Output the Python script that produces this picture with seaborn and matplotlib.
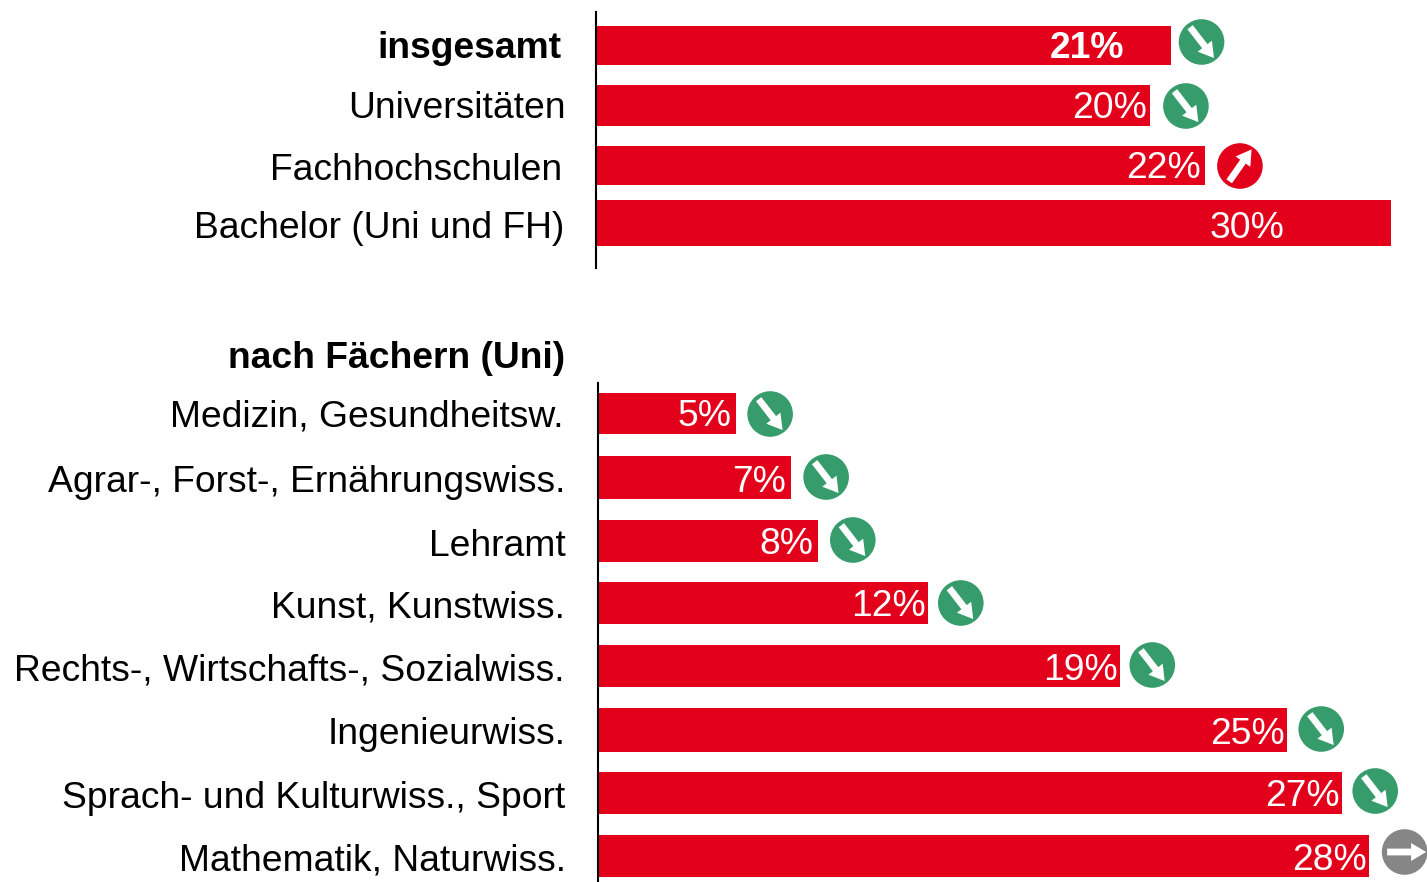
import numpy as np
import pandas as pd
import matplotlib
matplotlib.use("Agg")
import matplotlib.pyplot as plt
from matplotlib.patches import Circle, Polygon
from matplotlib.transforms import ScaledTranslation
import seaborn as sns

# ---- data ----
overall_cats = ["insgesamt", "Universitäten", "Fachhochschulen", "Bachelor (Uni und FH)"]
overall_vals = [20.9, 20.15, 22.15, 28.9]
overall_text = ["21%", "20%", "22%", "30%"]
overall_trend = ["down", "down", "up", None]

subject_header = "nach Fächern (Uni)"
subject_cats = ["Medizin, Gesundheitsw.", "Agrar-, Forst-, Ernährungswiss.", "Lehramt",
                "Kunst, Kunstwiss.", "Rechts-, Wirtschafts-, Sozialwiss.", "Ingenieurwiss.",
                "Sprach- und Kulturwiss., Sport", "Mathematik, Naturwiss."]
subject_vals = [5.03, 7.03, 8.0, 12.0, 19.0, 25.07, 27.07, 28.03]
subject_text = ["5%", "7%", "8%", "12%", "19%", "25%", "27%", "28%"]
subject_trend = ["down"] * 7 + ["flat"]

# ---- layout (figure pixels) ----
W, H = 1427, 882
PX_PER_UNIT = 27.5
RED, GREEN, GREY = "#E2001A", "#369C6B", "#868686"
TREND_COL = {"down": GREEN, "up": RED, "flat": GREY}
TREND_DIR = {"down": (24, 31), "up": (21, -30), "flat": (39, 0)}

top_layout = dict(
    x0=595.8, y0=12, y1=268,
    bars=[(26, 65), (85, 126), (146, 185), (200, 246)],
    lab_y=[44, 105, 166, 224],
    lab_right=[561, 565.5, 562.5, 564.5],
    val_right=[1124.5, 1146.5, 1200.5, 1284.5],
    val_y=[48, 109, 168, 229],
    icon_dx=[31, 36, 35, 0],
    icon_y=[42, 106, 166, 0],
)
bot_layout = dict(
    x0=597.8, y0=383, y1=882,
    bars=[(393, 434), (456, 499), (520, 562), (582, 624),
          (645, 687), (708, 752), (772, 814), (835, 877)],
    lab_y=[413, 478, 542, 604, 667, 730, 794, 857],
    lab_right=[563, 565.5, 566, 565, 564, 566, 565, 566],
    val_right=[731.5, 785.5, 813.5, 926, 1118, 1284.5, 1339.5, 1367],
    val_y=[417, 482, 544, 607, 670, 735, 797, 860],
    icon_dx=[34, 35, 35, 33, 32, 34, 33, 36],
    icon_y=[414, 477, 540, 603, 665, 729, 791, 852],
)

sns.set_theme(style="white")
plt.rcParams["font.family"] = ["Liberation Sans", "DejaVu Sans"]
FS = 26.8

fig = plt.figure(figsize=(W / 100, H / 100), dpi=100, facecolor="white")
overlay = fig.add_axes([0, 0, 1, 1], zorder=5)
overlay.set_xlim(0, W)
overlay.set_ylim(H, 0)
overlay.axis("off")


def draw_icon(cx, cy, trend):
    overlay.add_patch(Circle((cx, cy), 22.8, fc=TREND_COL[trend], ec="none"))
    dx, dy = TREND_DIR[trend]
    length = np.hypot(dx, dy)
    ux, uy = dx / length, dy / length
    nx, ny = -uy, ux
    L = 39.0
    s, hw, hl = 3.4, 9.0, 15.0
    pts = [(-L / 2, s), (L / 2 - hl, s), (L / 2 - hl, hw), (L / 2, 0),
           (L / 2 - hl, -hw), (L / 2 - hl, -s), (-L / 2, -s)]
    off = 2.0 if trend == "flat" else 0.8
    poly = [(cx + off * ux + a * ux + b * nx, cy + off * uy + a * uy + b * ny) for a, b in pts]
    overlay.add_patch(Polygon(poly, closed=True, fc="white", ec="none"))


def panel(cats, vals, texts, trends, lay, bold_first=False, bold_val_first=False):
    x0, y0, y1 = lay["x0"], lay["y0"], lay["y1"]
    ax = fig.add_axes([x0 / W, 1 - y1 / H, (W - x0) / W, (y1 - y0) / H], facecolor="none")
    df = pd.DataFrame({"cat": cats, "val": vals})
    sns.barplot(data=df, x="val", y="cat", color=RED, saturation=1, orient="y", ax=ax)
    ax.set_xlim(0, (W - x0) / PX_PER_UNIT)
    ax.set_ylim(y1, y0)
    for patch, (b0, b1) in zip(ax.patches, lay["bars"]):
        patch.set_y(b0)
        patch.set_height(b1 - b0)
        patch.set_edgecolor("none")
    ax.set_xlabel("")
    ax.set_ylabel("")
    ax.set_xticks([])
    ax.set_yticks(lay["lab_y"])
    ax.set_yticklabels(cats, fontsize=FS, color="black")
    ax.tick_params(axis="y", length=0, pad=0)
    for i, lab in enumerate(ax.get_yticklabels()):
        shift = (lay["lab_right"][i] - x0) / 100
        lab.set_transform(lab.get_transform() + ScaledTranslation(shift, 0, fig.dpi_scale_trans))
        if bold_first and i == 0:
            lab.set_fontweight("bold")
    for s in ["top", "right", "bottom"]:
        ax.spines[s].set_visible(False)
    ax.spines["left"].set_visible(True)
    ax.spines["left"].set_color("black")
    ax.spines["left"].set_linewidth(1.5)
    for i, (v, t) in enumerate(zip(vals, texts)):
        xpix = (lay["val_right"][i] - x0) / PX_PER_UNIT
        ax.text(xpix, lay["val_y"][i], t, ha="right", va="center", color="white", fontsize=FS,
                fontweight="bold" if (bold_val_first and i == 0) else "normal", clip_on=False)
        if trends[i]:
            end = x0 + v * PX_PER_UNIT
            draw_icon(end + lay["icon_dx"][i], lay["icon_y"][i], trends[i])
    return ax


panel(overall_cats, overall_vals, overall_text, overall_trend, top_layout, True, True)
ax2 = panel(subject_cats, subject_vals, subject_text, subject_trend, bot_layout)
ax2.text((565 - bot_layout["x0"]) / PX_PER_UNIT, 359, subject_header, ha="right", va="center",
         fontsize=FS, fontweight="bold", color="black", clip_on=False)

fig.savefig("out.png", dpi=100, facecolor="white")
